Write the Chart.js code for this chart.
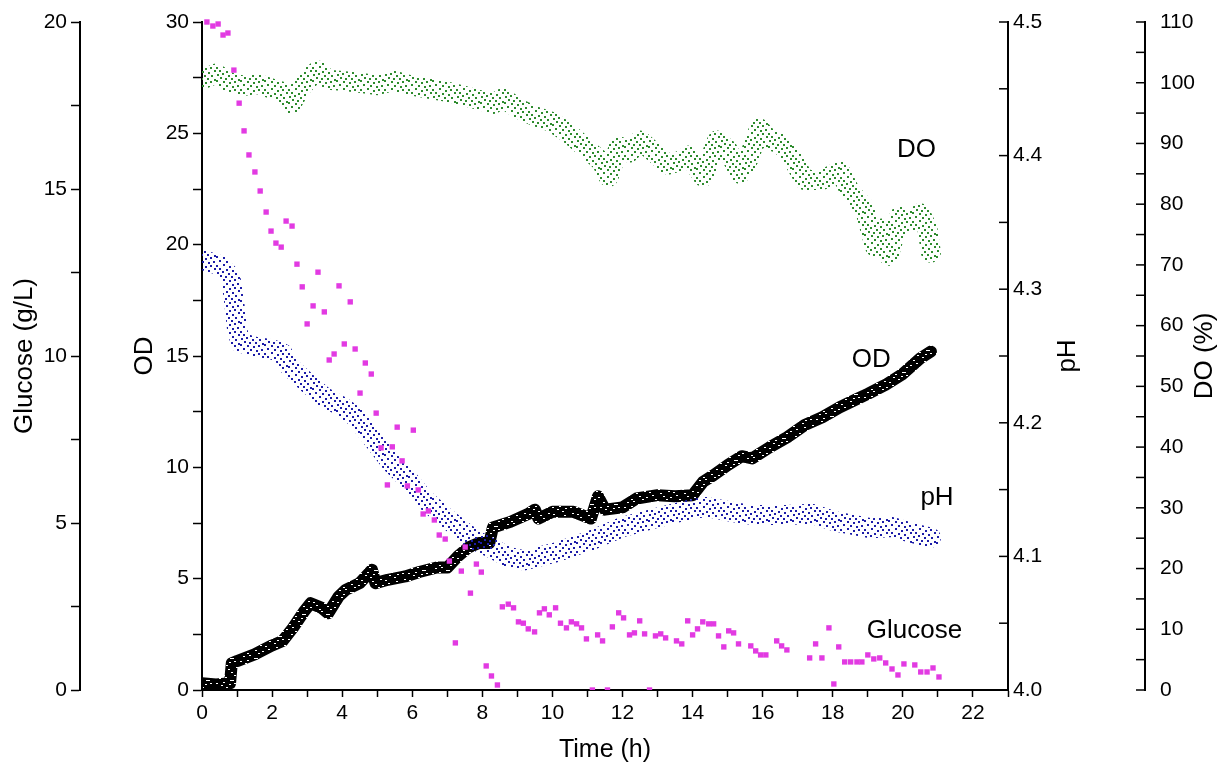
<!DOCTYPE html>
<html>
<head>
<meta charset="utf-8">
<title>Fermentation profile</title>
<script src="https://cdn.jsdelivr.net/npm/chart.js@4.4.1/dist/chart.umd.min.js"></script>
<style>
    html, body { margin: 0; padding: 0; background: #fff; }
    canvas { display: block; }
</style>
</head>
<body>
<canvas id="chart" width="1225" height="769"></canvas>
<script>
// values (time in h)
const odTime = [0, 0.4, 0.8, 0.85, 1.0, 1.5, 2.0, 2.3, 2.6, 2.9, 3.1, 3.4, 3.6, 3.9, 4.1, 4.5, 4.85, 4.95, 5.3, 5.8,
    6.2, 6.7, 7.0, 7.3, 7.6, 7.9, 8.2, 8.3, 8.8, 9.3, 9.5, 9.6, 10.0, 10.6, 11.1, 11.3, 11.5, 12.0, 12.4, 13.0,
    13.5, 14.0, 14.3, 14.6, 15.0, 15.4, 15.7, 16.2, 16.7, 17.2, 17.7, 18.2, 18.6, 19.0, 19.5, 20.0, 20.5, 20.8];
const od = [0.3, 0.25, 0.3, 1.2, 1.3, 1.6, 2.0, 2.2, 2.8, 3.5, 3.9, 3.7, 3.45, 4.2, 4.5, 4.8, 5.4, 4.8, 4.95, 5.1,
    5.3, 5.5, 5.5, 6.0, 6.4, 6.6, 6.6, 7.3, 7.55, 7.9, 8.1, 7.7, 8.0, 8.0, 7.7, 8.7, 8.1, 8.2, 8.6, 8.75,
    8.7, 8.75, 9.35, 9.65, 10.1, 10.5, 10.4, 10.9, 11.35, 11.9, 12.25, 12.7, 13.0, 13.3, 13.7, 14.2, 14.9, 15.2];

const phTime = [0, 0.5, 0.8, 0.9, 1.0, 1.1, 1.5, 2.0, 2.3, 2.5, 3.0, 3.5, 4.0, 4.4, 4.9, 5.4, 5.9, 6.3, 6.9, 7.4,
    7.8, 8.2, 8.7, 9.2, 10.1, 11.1, 12.0, 13.0, 13.9, 14.4, 15.2, 15.7, 16.7, 17.4, 18.1, 19.1, 19.7, 20.2, 20.8];
const ph = [4.322, 4.318, 4.31, 4.295, 4.27, 4.26, 4.257, 4.255, 4.252, 4.242, 4.23, 4.219, 4.212, 4.204, 4.187,
    4.17, 4.157, 4.144, 4.13, 4.12, 4.112, 4.107, 4.1, 4.097, 4.103, 4.112, 4.122, 4.129, 4.135, 4.137, 4.133,
    4.131, 4.131, 4.132, 4.126, 4.121, 4.122, 4.118, 4.114];

const doTime = [0, 0.4, 0.8, 1.2, 1.6, 2.0, 2.3, 2.55, 2.8, 3.1, 3.3, 3.6, 4.0, 4.5, 5.0, 5.5, 6.0, 6.5, 7.0, 7.5,
    8.0, 8.3, 8.6, 9.0, 9.5, 10.0, 10.5, 11.0, 11.4, 11.6, 11.9, 12.2, 12.5, 12.9, 13.3, 13.6, 13.9, 14.3, 14.7,
    15.0, 15.35, 15.6, 15.9, 16.2, 16.5, 16.8, 17.2, 17.7, 18.2, 18.5, 18.9, 19.2, 19.4, 19.6, 19.9, 20.2, 20.5,
    20.7, 20.8];
const dissolvedO2 = [100.5, 101.5, 100, 99.5, 99.8, 99, 98.5, 96.5, 99, 101, 102, 100.5, 100.3, 100, 99.6, 100.3,
    99.5, 99, 98.5, 97.8, 97, 96.5, 97.5, 95.8, 94.5, 93.5, 91.5, 89, 87, 84.5, 89.5, 88.5, 90.5, 88.5, 86.5, 87,
    88, 84.5, 90.5, 89, 85, 87.5, 92.5, 90.5, 90, 88, 84, 84, 85.5, 82, 79.5, 73, 76, 71.5, 78, 77, 78.5, 76, 72];

const glucoseTime = [0.14, 0.31, 0.46, 0.6, 0.74, 0.91, 1.06, 1.2, 1.34, 1.51, 1.66, 1.83, 1.97, 2.11, 2.26, 2.4,
    2.57, 2.71, 2.86, 3.0, 3.17, 3.31, 3.49, 3.63, 3.77, 3.91, 4.06, 4.23, 4.37, 4.51, 4.66, 4.83, 4.97, 5.11, 5.29,
    5.43, 5.57, 5.71, 5.86, 6.03, 6.17, 6.31, 6.46, 6.63, 6.77, 6.94, 7.06, 7.23, 7.4, 7.51, 7.66, 7.83, 7.97, 8.11,
    8.26, 8.43, 8.57, 8.74, 8.89, 9.03, 9.17, 9.31, 9.49, 9.63, 9.77, 9.91, 10.09, 10.23, 10.4, 10.54, 10.69, 10.83,
    10.97, 11.14, 11.29, 11.43, 11.57, 11.71, 11.89, 12.03, 12.2, 12.34, 12.49, 12.63, 12.77, 12.94, 13.09, 13.23,
    13.54, 13.69, 13.86, 14.0, 14.14, 14.29, 14.46, 14.6, 14.74, 14.89, 15.03, 15.17, 15.31, 15.66, 15.8, 15.94,
    16.09, 16.4, 16.54, 16.69, 17.34, 17.51, 17.69, 17.89, 18.03, 18.17, 18.34, 18.51, 18.69, 18.83, 19.0, 19.17,
    19.34, 19.51, 19.69, 19.86, 20.03, 20.34, 20.51, 20.69, 20.86, 21.03];
const glucose = [20.0, 19.88, 19.94, 19.61, 19.67, 18.56, 17.57, 16.74, 16.02, 15.51, 14.94, 14.31, 13.74, 13.38,
    13.26, 14.04, 13.89, 12.75, 12.07, 10.96, 11.5, 12.51, 11.32, 9.88, 10.06, 12.1, 10.36, 11.62, 10.21, 8.89,
    9.79, 9.46, 8.29, 7.25, 6.14, 7.28, 7.87, 6.86, 6.11, 7.78, 5.99, 5.27, 5.36, 5.09, 4.64, 4.52, 3.86, 1.41,
    3.56, 4.28, 2.9, 3.77, 3.53, 0.72, 0.42, 0.15, 2.49, 2.57, 2.46, 2.04, 2.0, 1.83, 1.74, 2.31, 2.43, 2.25, 2.46,
    2.0, 1.86, 2.04, 1.98, 1.86, 1.53, 0, 1.65, 1.47, 0, 1.89, 2.31, 2.16, 1.65, 1.71, 2.07, 1.68, 0, 1.62, 1.68,
    1.56, 1.47, 1.38, 2.07, 1.65, 1.83, 2.04, 1.98, 1.98, 1.62, 1.29, 1.77, 1.71, 1.38, 1.32, 1.17, 1.05, 1.05,
    1.47, 1.32, 1.2, 0.96, 1.38, 0.96, 1.86, 0.18, 1.29, 0.84, 0.84, 0.84, 0.84, 1.05, 0.93, 0.96, 0.81, 0.63,
    0.45, 0.78, 0.75, 0.54, 0.54, 0.66, 0.39];

const FONT = "'Liberation Sans', Arial, sans-serif";
Chart.defaults.font.family = FONT;
Chart.defaults.color = "#000";

const canvas = document.getElementById("chart");
const ctx = canvas.getContext("2d");

function pairs(xs, ys) {
    return xs.map(function (x, i) { return {x: x, y: ys[i]}; });
}

// irregular dot texture so the thick lines read like the logged point clouds
const sparseDots = [[0, 1], [7, 0], [13, 2], [18, 1], [3, 4], [10, 5], [16, 6], [1, 8], [6, 7], [12, 9],
    [19, 9], [4, 11], [9, 12], [15, 12], [0, 14], [7, 15], [13, 16], [18, 15], [3, 18], [10, 19], [16, 20], [22, 4],
    [22, 13], [21, 19]];
const holes = [[0, 1], [7, 0], [13, 2], [18, 1], [10, 5], [1, 8], [12, 9], [4, 11], [15, 12], [7, 15], [18, 15],
    [3, 18], [16, 20], [22, 13], [5, 3], [20, 7], [9, 17], [14, 20]];

function speckle(color, dense) {
    const tile = document.createElement("canvas");
    tile.width = 24;
    tile.height = 22;
    const g = tile.getContext("2d");
    g.fillStyle = color;
    if (dense) {
        g.fillRect(0, 0, 24, 22);
        holes.forEach(function (d) { g.clearRect(d[0], d[1], 2, 1); });
    } else {
        sparseDots.forEach(function (d) { g.fillRect(d[0], d[1], 2, 2); });
    }
    return ctx.createPattern(tile, "repeat");
}

function rotatedText(c, text, x, y) {
    c.save();
    c.translate(x, y);
    c.rotate(-Math.PI / 2);
    c.textAlign = "center";
    c.textBaseline = "middle";
    c.fillText(text, 0, 0);
    c.restore();
}

const extras = {
    id: "extras",
    beforeDraw: function (chart) {
        const c = chart.ctx;
        c.save();
        c.fillStyle = "#fff";
        c.fillRect(0, 0, chart.width, chart.height);
        c.restore();
    },
    afterDraw: function (chart) {
        const c = chart.ctx;
        const x = chart.scales.x, yOD = chart.scales.yOD;
        c.save();
        // right-hand axes have their ticks pointing inwards
        c.strokeStyle = "#000";
        c.lineWidth = 1.5;
        ["yPH", "yDO"].forEach(function (id) {
            const s = chart.scales[id];
            s.ticks.forEach(function (t) {
                const y = s.getPixelForValue(t.value);
                c.beginPath();
                c.moveTo(s.left - 9, y);
                c.lineTo(s.left, y);
                c.stroke();
            });
        });
        c.fillStyle = "#000";
        c.font = "26px " + FONT;
        const mid = (chart.chartArea.top + chart.chartArea.bottom) / 2;
        rotatedText(c, "pH", chart.scales.yPH.left + 60, mid);
        rotatedText(c, "DO (%)", chart.scales.yDO.left + 60, mid);

        c.textAlign = "left";
        c.textBaseline = "alphabetic";
        c.fillText("DO", x.getPixelForValue(19.83), yOD.getPixelForValue(23.95));
        c.fillText("OD", x.getPixelForValue(18.54), yOD.getPixelForValue(14.5));
        c.fillText("pH", x.getPixelForValue(20.5), yOD.getPixelForValue(8.3));
        c.fillText("Glucose", x.getPixelForValue(18.97), yOD.getPixelForValue(2.33));
        c.restore();
    }
};

const tickFont = {size: 21};
const axisBorder = {color: "#000", width: 2};
const axisGrid = {drawOnChartArea: false, color: "#000", tickWidth: 1.5, tickLength: 9};

function fixWidth(w) {
    return function (s) {
        s.width = w;
        s.paddingTop = 0;
        s.paddingBottom = 0;
    };
}

new Chart(ctx, {
    type: "scatter",
    data: {
        datasets: [{
            label: "Glucose",
            data: pairs(glucoseTime, glucose),
            yAxisID: "yG",
            pointStyle: "rect",
            pointRadius: 3.8,
            pointBorderWidth: 0,
            backgroundColor: "#e23ae2",
            borderColor: "#e23ae2",
            clip: {left: 5, top: 5, right: 5, bottom: 0},
            order: 0
        }, {
            label: "pH",
            data: pairs(phTime, ph),
            yAxisID: "yPH",
            showLine: true,
            pointRadius: 0,
            borderWidth: 20,
            borderColor: speckle("#1c1ca8", false),
            borderJoinStyle: "round",
            borderCapStyle: "round",
            order: 1
        }, {
            label: "OD",
            data: pairs(odTime, od),
            yAxisID: "yOD",
            showLine: true,
            pointRadius: 0,
            borderWidth: 12,
            borderColor: speckle("#000", true),
            borderJoinStyle: "round",
            borderCapStyle: "round",
            order: 2
        }, {
            label: "DO",
            data: pairs(doTime, dissolvedO2),
            yAxisID: "yDO",
            showLine: true,
            pointRadius: 0,
            borderWidth: 20,
            borderColor: speckle("#2e8b2e", false),
            borderJoinStyle: "round",
            borderCapStyle: "round",
            order: 3
        }]
    },
    options: {
        responsive: false,
        devicePixelRatio: 1,
        animation: false,
        layout: {padding: {top: 22, left: 0, right: 0, bottom: 0}},
        elements: {line: {tension: 0}},
        plugins: {
            legend: {display: false},
            tooltip: {enabled: false}
        },
        scales: {
            x: {
                type: "linear",
                position: "bottom",
                min: 0,
                max: 23,
                ticks: {
                    stepSize: 1,
                    autoSkip: false,
                    maxRotation: 0,
                    padding: 4,
                    font: tickFont,
                    callback: function (v) { return v % 2 === 0 ? v : ""; }
                },
                grid: {drawOnChartArea: false, color: "#000", tickWidth: 1.5, tickLength: 7},
                border: axisBorder,
                title: {display: true, text: "Time (h)", font: {size: 25}, padding: {top: 0, bottom: 4}},
                afterFit: function (s) { s.height = 79; }
            },
            yG: {
                type: "linear",
                position: "left",
                weight: 2,
                min: 0,
                max: 20,
                ticks: {
                    stepSize: 2.5,
                    autoSkip: false,
                    padding: 4,
                    font: tickFont,
                    callback: function (v) { return v % 5 === 0 ? v : ""; }
                },
                grid: axisGrid,
                border: axisBorder,
                title: {display: true, text: "Glucose (g/L)", font: {size: 26}, padding: {top: 9, bottom: 0}},
                afterFit: fixWidth(80)
            },
            yOD: {
                type: "linear",
                position: "left",
                weight: 1,
                min: 0,
                max: 30,
                ticks: {
                    stepSize: 2.5,
                    autoSkip: false,
                    padding: 4,
                    font: tickFont,
                    callback: function (v) { return v % 5 === 0 ? v : ""; }
                },
                grid: axisGrid,
                border: axisBorder,
                title: {display: true, text: "OD", font: {size: 26}, padding: {top: 49, bottom: 0}},
                afterFit: fixWidth(122)
            },
            yPH: {
                type: "linear",
                position: "right",
                weight: 1,
                min: 4.0,
                max: 4.5,
                ticks: {
                    stepSize: 0.05,
                    autoSkip: false,
                    padding: 5,
                    font: tickFont,
                    callback: function (v) { return Math.round(v * 100) % 10 === 0 ? v.toFixed(1) : ""; }
                },
                grid: {drawOnChartArea: false, drawTicks: false},
                border: axisBorder,
                afterFit: fixWidth(137)
            },
            yDO: {
                type: "linear",
                position: "right",
                weight: 2,
                min: 0,
                max: 110,
                ticks: {
                    stepSize: 5,
                    autoSkip: false,
                    padding: 15,
                    font: tickFont,
                    callback: function (v) { return v % 10 === 0 ? v : ""; }
                },
                grid: {drawOnChartArea: false, drawTicks: false},
                border: axisBorder,
                afterFit: fixWidth(80)
            }
        }
    },
    plugins: [extras]
});
</script>
</body>
</html>
